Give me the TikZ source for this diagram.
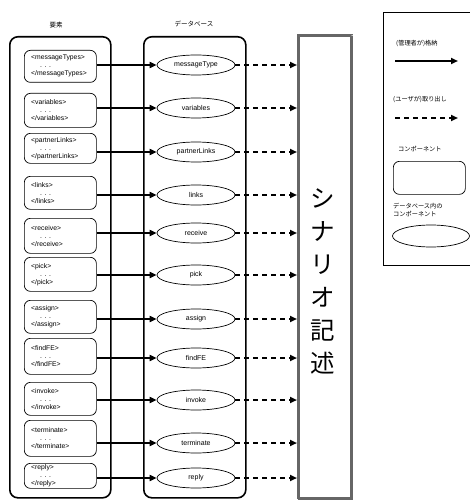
\documentclass[tikz,border=0pt]{standalone}
\usepackage{fontspec}
\setmainfont{Liberation Sans}
\newfontfamily\jp{Noto Sans CJK JP}
\usetikzlibrary{arrows.meta,shapes.geometric}
\tikzset{
  outerbox/.style={draw, line width=1.6pt, rounded corners=8pt, inner sep=0pt, anchor=north west},
  tagbox/.style={draw, line width=0.7pt, rounded corners=6pt, minimum width=72pt, inner sep=0pt, anchor=north west},
  tagtext/.style={font=\fontsize{6.8}{8}\selectfont, align=left, inner sep=0pt, anchor=west},
  dbell/.style={draw, ellipse, line width=0.7pt, minimum width=78pt, minimum height=20pt, inner sep=0pt, font=\fontsize{7}{8}\selectfont},
  store/.style={line width=2pt, -{Triangle[length=7pt,width=6pt]}},
  fetch/.style={line width=2pt, dash pattern=on 5pt off 4pt, -{Triangle[length=7pt,width=6pt]}},
  titletext/.style={font=\jp\fontsize{6.5}{7}\selectfont, inner sep=0pt},
  legtext/.style={font=\jp\fontsize{6.2}{8}\selectfont, inner sep=0pt, anchor=west, align=left},
  scenbox/.style={draw=black!60, line width=2.6pt, dash pattern=on 0.45pt off 0.35pt, inner sep=0pt, anchor=north west},
}
\begin{document}
\begin{tikzpicture}[x=1pt, y=-1pt]
\useasboundingbox (0,0) rectangle (470,500);
% titles
\node[titletext] (h1) at (56,25) {要素};
\node[titletext] (h2) at (194,24) {データベース};
% outer boxes
\node[outerbox, minimum width=101pt, minimum height=461pt] (elem) at (9,36) {};
\node[outerbox, minimum width=102pt, minimum height=461pt] (db) at (143,36) {};
% scenario box
\node[scenbox, minimum width=53pt, minimum height=463pt] (scen) at (297,34) {};
\node[font=\jp\fontsize{24.5}{33}\selectfont, align=center, inner sep=0pt] (st) at (323,281) {シ\\ナ\\リ\\オ\\記\\述};
% rows
\foreach \i/\t/\b/\a/\tag/\lab in {
  1/50/82/65/messageTypes/messageType,
  2/93/127/108/variables/variables,
  3/133/163/152/partnerLinks/partnerLinks,
  4/176/209/195/links/links,
  5/218/253/233/receive/receive,
  6/257/291/275/pick/pick,
  7/300/333/319/assign/assign,
  8/338/374/358/findFE/findFE,
  9/382/415/400/invoke/invoke,
  10/420/456/443/terminate/terminate,
  11/463/488/478/reply/reply}{
  \pgfmathsetmacro\hh{\b-\t}
  \node[tagbox, minimum height=\hh pt] (b\i) at (24,\t) {};
  \node[tagtext] (t\i) at ([xshift=7pt]b\i.west) {<\tag>\\\hspace*{9pt}. . .\\</\tag>};
  \node[dbell] (e\i) at (196,\a) {\lab};
  \draw[store] (e\i.west -| b\i.east) -- (e\i.west);
  \draw[fetch] (e\i.east) -- (e\i.east -| scen.west);
}
% legend (its right side runs off the page)
\node[draw, line width=1pt, minimum width=130pt, minimum height=253pt, inner sep=0pt, anchor=north west] (legend) at (383,12) {};
\node[legtext] (l1) at (396,43) {(管理者が)格納};
\coordinate (s1) at (395,61);
\coordinate (s2) at (458,61);
\draw[store] (s1) -- (s2);
\node[legtext] (l2) at (393,99) {(ユーザが)取り出し};
\coordinate (d1) at (395,118);
\coordinate (d2) at (458,118);
\draw[fetch] (d1) -- (d2);
\node[legtext] (l3) at (398,149) {コンポーネント};
\node[tagbox, minimum height=33pt] (lr) at (393,161) {};
\node[legtext] (l4) at (393,210) {データベース内の\\コンポーネント};
\node[dbell, minimum width=77pt, minimum height=22pt] (le) at (431,236) {};
\end{tikzpicture}
\end{document}
